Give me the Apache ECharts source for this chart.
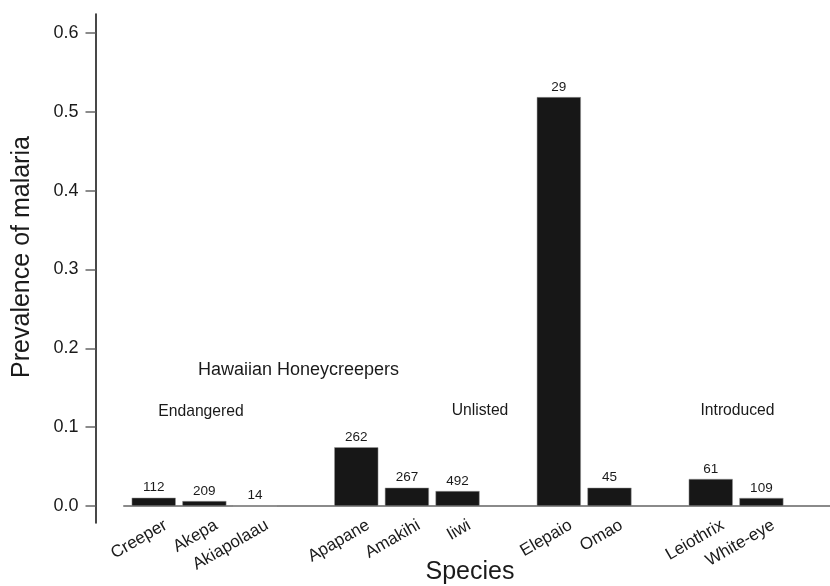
<!DOCTYPE html>
<html>
<head>
<meta charset="utf-8">
<script src="https://cdn.jsdelivr.net/npm/echarts@6/dist/echarts.min.js"></script>
<style>
html,body{margin:0;padding:0;background:#fff;}
#chart{width:830px;height:586px;}
</style>
</head>
<body>
<div id="chart"></div>
<script>
// Species (empty slots separate the groups)
var categories = ['Creeper', 'Akepa', 'Akiapolaau', '', 'Apapane', 'Amakihi', 'Iiwi', '', 'Elepaio', 'Omao', '', 'Leiothrix', 'White-eye'];
// Prevalence of malaria
var prevalence = [0.0105, 0.0063, 0, null, 0.0745, 0.0232, 0.019, null, 0.5187, 0.0232, null, 0.0343, 0.0102];
// Sample sizes shown above bars
var sampleSizes = ['112', '209', '14', '', '262', '267', '492', '', '29', '45', '', '61', '109'];
// Y tick values
var yTicks = [0, 0.1, 0.2, 0.3, 0.4, 0.5, 0.6];
// Group annotations
var groupTitle = 'Hawaiian Honeycreepers';
var groupLabels = ['Endangered', 'Unlisted', 'Introduced'];

var FONT = 'Liberation Sans, Arial, Helvetica, sans-serif';
var chart = echarts.init(document.getElementById('chart'), null, {renderer: 'canvas'});

var option = {
  backgroundColor: '#ffffff',
  animation: false,
  textStyle: {fontFamily: FONT},
  grid: [
    {left: 128.4, right: 43.3, top: 33, bottom: 80, outerBoundsMode: 'none', containLabel: false},
    {left: 95.5, width: 10, top: 14, bottom: 63, outerBoundsMode: 'none', containLabel: false},
    {left: 124, right: 0, top: 33, bottom: 80, outerBoundsMode: 'none', containLabel: false},
    {left: 140.4, right: 31.3, top: 33, bottom: 80, outerBoundsMode: 'none', containLabel: false}
  ],
  xAxis: [
    {type: 'category', gridIndex: 0, data: categories, boundaryGap: true,
     axisLine: {show: false}, axisTick: {show: false}, axisLabel: {show: false}, splitLine: {show: false}},
    {type: 'value', gridIndex: 1, min: 0, max: 1, show: false},
    {type: 'value', gridIndex: 2, min: 0, max: 1,
     axisLine: {show: true, lineStyle: {color: '#8a8a8a', width: 2}},
     axisTick: {show: false}, axisLabel: {show: false}, splitLine: {show: false}},
    {type: 'category', gridIndex: 3, data: categories, boundaryGap: true,
     axisLine: {show: false}, axisTick: {show: false}, splitLine: {show: false},
     axisLabel: {show: true, interval: 0, rotate: 30, margin: 18, fontSize: 17, color: '#1a1a1a', fontFamily: FONT}}
  ],
  yAxis: [
    {type: 'value', gridIndex: 0, min: 0, max: 0.6, interval: 0.1, offset: 32.9,
     axisLine: {show: false},
     axisTick: {show: true, length: 10, lineStyle: {color: '#666666', width: 1.5}},
     axisLabel: {show: true, margin: 17, fontSize: 18, color: '#1a1a1a', fontFamily: FONT,
       formatter: function (v) { return v.toFixed(1); }},
     splitLine: {show: false}},
    {type: 'value', gridIndex: 1, min: 0, max: 1,
     axisLine: {show: true, onZero: false, lineStyle: {color: '#1a1a1a', width: 1.6}},
     axisTick: {show: false}, axisLabel: {show: false}, splitLine: {show: false}},
    {type: 'value', gridIndex: 2, min: 0, max: 1, show: false},
    {type: 'value', gridIndex: 3, min: 0, max: 1, show: false}
  ],
  graphic: [
    {type: 'text', x: 22, y: 257, rotation: Math.PI / 2,
     style: {text: 'Prevalence of malaria', fontSize: 25, fontFamily: FONT, fill: '#1a1a1a', align: 'center', verticalAlign: 'middle'}},
    {type: 'text', x: 470, y: 572,
     style: {text: 'Species', fontSize: 25, fontFamily: FONT, fill: '#1a1a1a', align: 'center', verticalAlign: 'middle'}},
    {type: 'text', x: 298.5, y: 370,
     style: {text: groupTitle, fontSize: 18, fontFamily: FONT, fill: '#1a1a1a', align: 'center', verticalAlign: 'middle'}},
    {type: 'text', x: 201, y: 412,
     style: {text: groupLabels[0], fontSize: 15.7, fontFamily: FONT, fill: '#1a1a1a', align: 'center', verticalAlign: 'middle'}},
    {type: 'text', x: 480, y: 410.7,
     style: {text: groupLabels[1], fontSize: 15.7, fontFamily: FONT, fill: '#1a1a1a', align: 'center', verticalAlign: 'middle'}},
    {type: 'text', x: 737.5, y: 410.7,
     style: {text: groupLabels[2], fontSize: 15.7, fontFamily: FONT, fill: '#1a1a1a', align: 'center', verticalAlign: 'middle'}}
  ],
  series: [
    {type: 'bar', xAxisIndex: 0, yAxisIndex: 0, data: prevalence,
     barCategoryGap: '13%',
     itemStyle: {color: '#171717', borderColor: '#9a9a9a', borderWidth: 0.5},
     label: {show: true, position: 'top', distance: 3, fontSize: 13.5, color: '#1a1a1a', fontFamily: FONT,
       formatter: function (p) { return sampleSizes[p.dataIndex]; }},
     emphasis: {disabled: true}}
  ]
};
chart.setOption(option);
</script>
</body>
</html>
